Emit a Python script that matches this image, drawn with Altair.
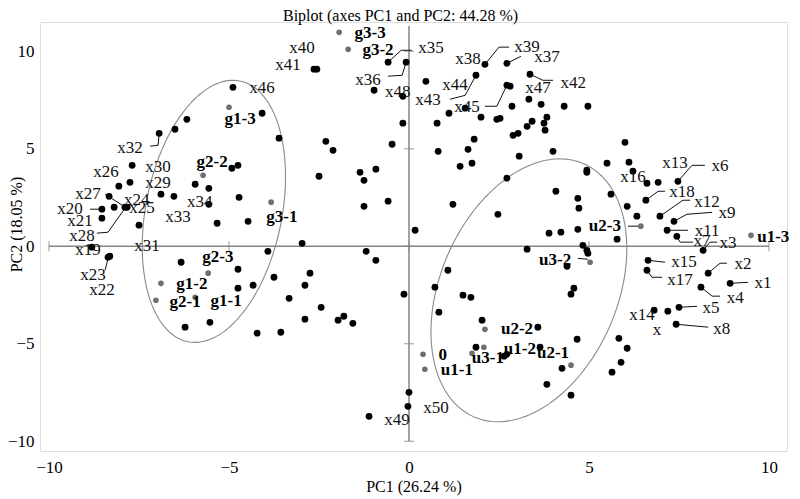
import math
import altair as alt
import pandas as pd

# ---------------- data (PC1, PC2 scores) ----------------
pc1_upper_left = [-6.17, -6.50, -6.94, -7.69, -8.06, -7.75, -8.33, -8.19, -8.53, -8.53,
                  -7.89, -7.83, -7.50, -6.89, -6.53, -5.94, -5.56, -5.56, -5.33, -4.92,
                  -4.75, -4.72, -4.47, -4.89, -4.08, -3.61, -2.97, -2.50, -2.31, -2.11,
                  -1.36, -1.25, -0.92, -1.25, -0.58, -0.47, -0.97, -0.58, -0.08, -2.64,
                  -2.56, -0.17, -0.17, 0.17]
pc2_upper_left = [6.51, 6.00, 5.79, 4.15, 3.08, 3.28, 2.56, 2.00, 1.90, 1.44,
                  2.00, 2.00, 1.08, 2.67, 2.56, 3.18, 2.97, 2.15, 1.18, 4.00,
                  4.15, 2.51, 1.28, 8.15, 6.82, 5.54, 0.15, 3.59, 5.38, 4.92,
                  3.79, 3.38, 3.95, 2.05, 2.31, 5.23, 8.00, 9.44, 9.44, 9.08,
                  9.08, 7.69, 6.31, 0.82]

pc1_upper_right = [0.47, 0.78, 0.81, 1.11, 1.56, 1.86, 2.11, 2.72, 3.36, 2.72,
                   2.81, 2.00, 2.44, 2.53, 2.86, 3.33, 3.67, 4.31, 4.97, 2.89,
                   3.03, 3.28, 3.42, 3.83, 3.75, 3.78, 1.81, 1.64, 1.42, 1.75,
                   3.06, 4.00, 4.94, 4.94, 5.50, 2.72, 1.22, 2.47, 4.08, 4.69,
                   4.72, 3.89, 4.22, 4.69, 5.61, 6.00, 6.11, 6.22, 6.61, 6.92,
                   7.47, 6.58, 6.06, 6.33, 6.97, 7.36, 7.17, 7.44, 5.78, 8.17]
pc2_upper_right = [8.46, 6.31, 4.87, 6.82, 7.08, 8.77, 9.33, 9.38, 8.82, 8.26,
                   8.21, 6.62, 6.51, 6.56, 7.18, 7.54, 7.28, 7.18, 7.18, 5.69,
                   5.79, 6.15, 6.41, 6.62, 6.31, 5.95, 5.49, 4.97, 4.10, 4.26,
                   4.62, 4.87, 3.90, 3.79, 4.26, 3.49, 2.15, 1.64, 2.82, 2.46,
                   1.95, 0.67, 0.72, 0.87, 2.67, 5.33, 4.31, 3.85, 3.23, 3.28,
                   3.33, 2.36, 2.05, 1.54, 1.54, 1.28, 0.82, 0.51, 0.36, -0.21]

pc1_lower_right = [3.28, 4.83, 4.94, 4.97, 4.39, 1.08, 0.72, -0.14, 1.50, 1.72,
                   4.58, 4.50, 0.83, 2.03, 3.58, 4.67, 1.86, 2.64, 2.72, 3.64,
                   4.25, 3.83, 4.50, 0.00, -0.03, -1.11, 6.64, 6.61, 8.31, 8.92,
                   8.11, 7.50, 7.19, 6.81, 7.42, 5.83, 6.06, 5.89, 5.64]
pc2_lower_right = [-0.15, 0.05, -0.21, -0.36, -1.03, -1.23, -2.10, -2.46, -2.51, -2.62,
                   -2.15, -2.46, -3.38, -3.79, -4.15, -4.77, -5.18, -5.64, -5.54, -5.18,
                   -6.26, -7.08, -7.64, -7.49, -8.21, -8.72, -0.72, -1.23, -1.38, -1.90,
                   -2.10, -3.13, -3.33, -3.28, -4.00, -4.72, -5.23, -5.95, -6.46]

pc1_lower_left = [-6.33, -6.22, -5.53, -4.75, -4.75, -4.33, -3.92, -3.75, -2.75, -2.89,
                  -3.33, -2.44, -2.89, -1.97, -1.81, -1.56, -4.22, -3.56, -1.19, -0.92,
                  -8.81, -8.36, -8.31]
pc2_lower_left = [-0.82, -4.15, -3.90, -1.18, -2.15, -2.00, -0.26, -1.59, -1.38, -2.00,
                  -2.67, -3.13, -3.74, -3.79, -3.59, -3.95, -4.46, -4.41, -0.26, -0.72,
                  -0.05, -0.56, -0.51]

# group (observation) scores, drawn in grey
obs_names = ["g3-3", "g3-2", "g1-3", "g2-2", "g3-1", "g2-3", "g1-2", "g2-1", "g1-1",
             "u2-3", "u1-3", "u3-2", "u2-2", "u1-2", "u3-1", "u2-1", "0", "u1-1"]
obs_pc1 = [-1.94, -1.69, -5.00, -5.72, -3.83, -5.58, -6.89, -7.03, -5.94,
           6.44, 9.50, 5.03, 2.11, 2.08, 1.75, 4.50, 0.39, 0.44]
obs_pc2 = [10.97, 10.10, 7.13, 3.64, 2.26, -1.38, -1.90, -2.77, -2.62,
           1.03, 0.56, -0.82, -4.26, -5.18, -5.49, -6.10, -5.54, -6.31]
obs_label_pc1 = [-1.08, -0.86, -4.69, -5.47, -3.53, -5.31, -6.03, -6.22, -5.08,
                 5.44, 10.12, 4.06, 3.00, 3.08, 2.19, 4.00, 0.94, 1.33]
obs_label_pc2 = [10.92, 10.05, 6.51, 4.31, 1.49, -0.56, -1.95, -2.87, -2.82,
                 1.03, 0.46, -0.72, -4.26, -5.28, -5.74, -5.49, -5.59, -6.36]

# variable labels
var_names = ["x1", "x2", "x3", "x4", "x5", "x6", "x7", "x8", "x9", "x11", "x12", "x13",
             "x14", "x15", "x16", "x17", "x18", "x", "x19", "x20", "x21", "x22", "x23",
             "x24", "x25", "x26", "x27", "x28", "x29", "x30", "x31", "x32", "x33", "x34",
             "x35", "x36", "x37", "x38", "x39", "x40", "x41", "x42", "x43", "x44", "x45",
             "x46", "x47", "x48", "x49", "x50"]
var_label_pc1 = [9.83, 9.28, 8.86, 9.06, 8.39, 8.64, 8.14, 8.69, 8.83, 8.28, 8.28, 7.39,
                 6.47, 7.64, 6.22, 7.53, 7.58, 6.89, -8.92, -9.42, -9.14, -8.53, -8.78,
                 -7.56, -7.42, -8.42, -8.92, -9.08, -6.97, -6.97, -7.28, -7.75, -6.42, -5.81,
                 0.61, -1.14, 3.83, 1.64, 3.28, -2.97, -3.36, 4.56, 0.53, 1.28, 1.61,
                 -4.08, 3.58, -0.31, -0.33, 0.75]
var_label_pc2 = [-1.90, -0.92, 0.15, -2.67, -3.18, 4.10, 0.26, -4.26, 1.69, 0.77, 2.26, 4.26,
                 -3.54, -0.82, 3.54, -1.74, 2.77, -4.31, -0.21, 1.90, 1.28, -2.26, -1.49,
                 2.36, 1.95, 3.79, 2.67, 0.51, 3.23, 4.05, 0.00, 5.03, 1.49, 2.26,
                 10.15, 8.51, 9.69, 9.59, 10.21, 10.15, 9.28, 8.36, 7.49, 8.26, 7.13,
                 8.10, 8.10, 7.90, -8.92, -8.31]

# leader lines joining a point to its label
leader_pc1 = {
    "x32": [-6.94, -6.97, -7.19], "x20": [-8.53, -8.86], "x28": [-8.67, -8.36, -7.89],
    "x27": [-8.44, -7.92], "x23": [-8.44, -8.36], "x35": [-0.58, -0.22, 0.08],
    "x36": [-0.08, -0.19, -0.58], "x38": [2.11, 2.50, 2.78], "x39": [2.72, 3.11],
    "x37": [3.36, 3.72, 4.00], "x44": [1.86, 1.56, 1.14], "x45": [2.72, 2.44, 2.11],
    "x6": [7.47, 7.86, 8.22], "x18": [6.58, 6.92, 7.11], "x12": [6.97, 7.61, 7.81],
    "x9": [7.36, 7.72, 8.42], "x11": [7.17, 7.75], "x7": [7.44, 7.53, 7.89],
    "x3": [8.17, 8.36, 8.56], "u2-3": [6.08, 6.39], "u3-2": [4.69, 4.97],
    "x15": [6.64, 7.11], "x17": [6.61, 6.75, 7.03], "x2": [8.31, 8.64, 8.83],
    "x1": [8.92, 9.42], "x4": [8.11, 8.42, 8.64], "x5": [7.50, 8.00], "x8": [7.42, 8.31],
}
leader_pc2 = {
    "x32": [5.79, 5.18, 5.13], "x20": [1.90, 1.90], "x28": [0.67, 0.72, 1.95],
    "x27": [2.67, 2.05], "x23": [-1.23, -0.62], "x35": [9.44, 10.05, 10.05],
    "x36": [9.44, 8.77, 8.72], "x38": [9.33, 10.21, 10.21], "x39": [9.38, 9.74],
    "x37": [8.82, 8.51, 8.51], "x44": [8.77, 7.74, 7.54], "x45": [8.26, 7.18, 7.18],
    "x6": [3.33, 4.15, 4.15], "x18": [2.36, 2.82, 2.82], "x12": [1.54, 2.36, 2.36],
    "x9": [1.28, 1.64, 1.74], "x11": [0.82, 0.82], "x7": [0.51, 0.21, 0.21],
    "x3": [-0.21, 0.21, 0.21], "u2-3": [1.03, 1.03], "u3-2": [-0.62, -0.67],
    "x15": [-0.72, -0.82], "x17": [-1.23, -1.59, -1.59], "x2": [-1.38, -0.87, -0.87],
    "x1": [-1.90, -1.85], "x4": [-2.10, -2.56, -2.56], "x5": [-3.13, -3.08], "x8": [-4.00, -4.15],
}

# confidence ellipses (centre, half extents, skew)
ell_names = ["g", "u"]
ell_cx = [-5.42, 3.33]
ell_cy = [1.79, -2.26]
ell_half_x = [1.99, 2.72]
ell_half_y = [6.72, 6.74]
ell_skew = [0.269, 0.322]

tick_values = [-10, -5, 0, 5, 10]
axis_top = 11.3

# ---------------- tables ----------------
pts = pd.DataFrame({
    "pc1": pc1_upper_left + pc1_upper_right + pc1_lower_right + pc1_lower_left,
    "pc2": pc2_upper_left + pc2_upper_right + pc2_lower_right + pc2_lower_left,
})
obs = pd.DataFrame({"name": obs_names, "pc1": obs_pc1, "pc2": obs_pc2})
obs_lab = pd.DataFrame({"name": obs_names, "pc1": obs_label_pc1, "pc2": obs_label_pc2})
var_lab = pd.DataFrame({"name": var_names, "pc1": var_label_pc1, "pc2": var_label_pc2})

lead_rows = []
for k in leader_pc1:
    for i, (a, b) in enumerate(zip(leader_pc1[k], leader_pc2[k])):
        lead_rows.append({"id": k, "seq": i, "pc1": a, "pc2": b})
leaders = pd.DataFrame(lead_rows)

ell_rows = []
for n, cx, cy, hx, hy, s in zip(ell_names, ell_cx, ell_cy, ell_half_x, ell_half_y, ell_skew):
    for i in range(181):
        t = 2 * math.pi * i / 180
        ell_rows.append({"id": n, "seq": i, "pc1": cx + hx * math.cos(t), "pc2": cy + hy * math.sin(t + s)})
ellipses = pd.DataFrame(ell_rows)

hline = pd.DataFrame({"a": [tick_values[0]], "b": [tick_values[-1]], "c": [0]})
vline = pd.DataFrame({"a": [0], "b": [tick_values[0]], "c": [axis_top]})
hticks = pd.DataFrame({"pc1": tick_values, "pc2": [0] * len(tick_values)})
vticks = pd.DataFrame({"pc1": [0] * len(tick_values), "pc2": tick_values})

# ---------------- encodings ----------------
SERIF = "Liberation Serif"
xscale = alt.Scale(domain=[-10.25, 10.5], nice=False, zero=False)
yscale = alt.Scale(domain=[-10.5, 11.5], nice=False, zero=False)
xaxis = alt.Axis(values=tick_values, domain=False, ticks=False, grid=False,
                 labelFont=SERIF, labelFontSize=17, labelColor="#000", labelPadding=8,
                 title="PC1 (26.24 %)", titleFont=SERIF, titleFontSize=16,
                 titleFontWeight="normal", titleColor="#000", titlePadding=3)
yaxis = alt.Axis(values=tick_values, domain=False, ticks=False, grid=False,
                 labelFont=SERIF, labelFontSize=17, labelColor="#000", labelPadding=6,
                 title="PC2 (18.05 %)", titleFont=SERIF, titleFontSize=16,
                 titleFontWeight="normal", titleColor="#000", titleX=-16, titleY=202)


def X(field="pc1"):
    return alt.X(f"{field}:Q", scale=xscale, axis=xaxis)


def Y(field="pc2"):
    return alt.Y(f"{field}:Q", scale=yscale, axis=yaxis)


AX = "#858585"

ell_layer = alt.Chart(ellipses).mark_line(color="#8a8a8a", strokeWidth=1.1).encode(
    x=X(), y=Y(), detail="id:N", order="seq:Q")

h_layer = alt.Chart(hline).mark_rule(color=AX, strokeWidth=1.5).encode(
    x=X("a"), x2="b:Q", y=Y("c"))
v_layer = alt.Chart(vline).mark_rule(color=AX, strokeWidth=1.5).encode(
    x=X("a"), y=Y("b"), y2="c:Q")
ht_layer = alt.Chart(hticks).mark_tick(orient="vertical", size=10, thickness=1.2, color=AX).encode(
    x=X(), y=Y())
vt_layer = alt.Chart(vticks).mark_tick(orient="horizontal", size=10, thickness=1.2, color=AX).encode(
    x=X(), y=Y())

lead_layer = alt.Chart(leaders).mark_line(color="#111", strokeWidth=1).encode(
    x=X(), y=Y(), detail="id:N", order="seq:Q")

pt_layer = alt.Chart(pts).mark_circle(size=46, color="#000", opacity=1).encode(x=X(), y=Y())
obs_layer = alt.Chart(obs).mark_circle(size=32, color="#6f6f6f", opacity=1).encode(x=X(), y=Y())

var_text = alt.Chart(var_lab).mark_text(font=SERIF, fontSize=17, color="#111",
                                         align="center", baseline="middle").encode(
    x=X(), y=Y(), text="name:N")
obs_text = alt.Chart(obs_lab).mark_text(font=SERIF, fontSize=17, fontWeight="bold", color="#000",
                                         align="center", baseline="middle").encode(
    x=X(), y=Y(), text="name:N")

chart = alt.layer(
    ell_layer, h_layer, v_layer, ht_layer, vt_layer, lead_layer,
    pt_layer, obs_layer, var_text, obs_text
).properties(
    width=747, height=429,
    autosize=alt.AutoSizeParams(type="none"),
    padding={"left": 32, "top": 14, "right": 2, "bottom": 46},
    title=alt.TitleParams(text="Biplot (axes PC1 and PC2: 44.28 %)", font=SERIF, fontSize=16,
                          fontWeight="normal", color="#000", anchor="middle", frame="group",
                          offset=-2, dx=-13),
).configure_view(stroke=None).configure(background="white")

chart.save("out.html", embed_options={"renderer": "svg", "actions": False})
